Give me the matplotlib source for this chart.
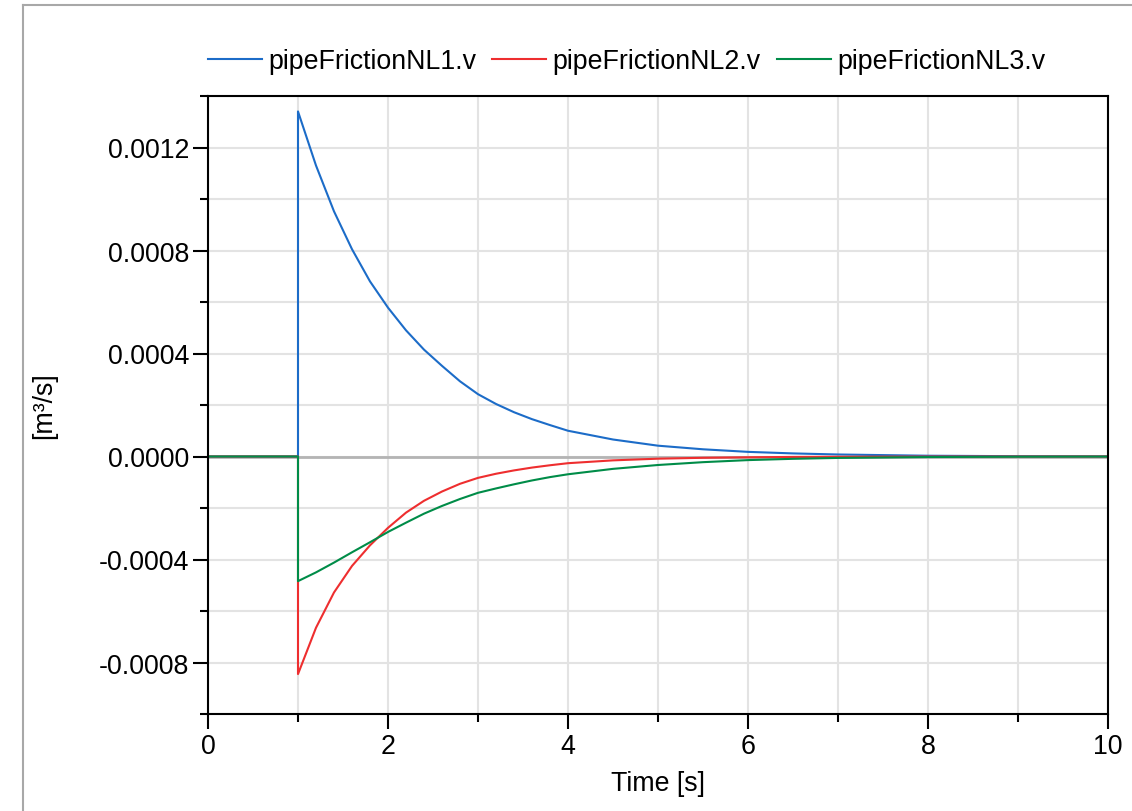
# -*- coding: utf-8 -*-

import numpy as np
import matplotlib
matplotlib.use('Agg')
import matplotlib.pyplot as plt
from matplotlib.lines import Line2D
from matplotlib.ticker import MultipleLocator, FuncFormatter

plt.rcParams['font.family'] = ['Liberation Sans', 'DejaVu Sans']

# time samples (step at t=1 s, so 1.0 appears twice)
time = np.array([0.0, 1.0, 1.0, 1.2, 1.4, 1.6, 1.8, 2.0, 2.2, 2.4, 2.6, 2.8, 3.0,
                 3.2, 3.4, 3.6, 3.8, 4.0, 4.5, 5.0, 5.5, 6.0, 6.5, 7.0, 8.0, 9.0, 10.0])

v1 = np.array([0.0, 0.0, 0.00134, 0.00113, 0.000952, 0.000805, 0.000680, 0.000578,
               0.000490, 0.000415, 0.000352, 0.000292, 0.000242,
               0.000204, 0.000172, 0.000145, 0.000122, 0.000100,
               0.000066, 0.000042, 0.000028, 0.000018, 0.000012, 0.0000078,
               0.000003, 0.0000012, 0.0000005])
v2 = np.array([0.0, 0.0, -0.000845, -0.000665, -0.000528, -0.000425, -0.000345, -0.000277,
               -0.000218, -0.000172, -0.000136, -0.000106, -0.000083,
               -0.000067, -0.000054, -0.000043, -0.000034, -0.000026,
               -0.000015, -0.0000085, -0.000005, -0.000003, -0.0000017, -0.000001,
               -0.0000003, -0.0000001, 0.0])
v3 = np.array([0.0, 0.0, -0.000484, -0.000450, -0.000412, -0.000372, -0.000333, -0.000293,
               -0.000257, -0.000222, -0.000192, -0.000165, -0.000141,
               -0.000124, -0.000108, -0.000093, -0.000080, -0.000069,
               -0.000048, -0.000033, -0.000022, -0.000014, -0.000009, -0.0000055,
               -0.000002, -0.0000008, -0.0000003])

labels = ['pipeFrictionNL1.v', 'pipeFrictionNL2.v', 'pipeFrictionNL3.v']
colors = ['#1c6cc8', '#ee2e2f', '#008c48']

W, H = 1132, 812
fs = 19.3
fig = plt.figure(figsize=(W / 100, H / 100), dpi=100)
ax = fig.add_axes([208 / W, 1 - 715 / H, 900 / W, 618 / H])

ax.axhline(0, color='#b4b4b4', lw=2, zorder=1)
for y, lab, c in zip([v1, v2, v3], labels, colors):
    ax.plot(time, y, color=c, lw=1.5, label=lab, zorder=2)

ax.set_xlim(0, 10)
ax.set_ylim(-0.001, 0.0014)
ax.xaxis.set_major_locator(MultipleLocator(2))
ax.xaxis.set_minor_locator(MultipleLocator(1))
ax.yaxis.set_major_locator(MultipleLocator(0.0004))
ax.yaxis.set_minor_locator(MultipleLocator(0.0002))
ax.yaxis.set_major_formatter(FuncFormatter(lambda v, p: '%.4f' % (0.0 if abs(v) < 1e-12 else v)))
ax.grid(True, which='both', color='#e3e3e3', lw=1.5, zorder=0)
ax.set_axisbelow(True)

ax.tick_params(which='major', length=10.5, width=1.5, labelsize=fs, pad=3, color='black')
ax.tick_params(which='minor', length=6, width=1.5, color='black')
for s in ax.spines.values():
    s.set_linewidth(1.5)
    s.set_color('black')

ax.set_xlabel('Time [s]', fontsize=fs, labelpad=8)
ax.set_ylabel('[m³/s]', fontsize=fs, labelpad=30)

ax.legend(loc='center left', bbox_to_anchor=(0, 1.0566), ncol=3, frameon=False,
          fontsize=fs, handlelength=2.0, handletextpad=0.25, columnspacing=0.6,
          borderpad=0, borderaxespad=0)

# grey panel frame (left and top edges)
fig.add_artist(Line2D([22.5 / W, 22.5 / W], [0, 1 - 5.5 / H], color='#a8a8a8', lw=1.5))
fig.add_artist(Line2D([22.5 / W, 1], [1 - 5.5 / H, 1 - 5.5 / H], color='#a8a8a8', lw=1.5))

fig.savefig('out.png', dpi=100)
